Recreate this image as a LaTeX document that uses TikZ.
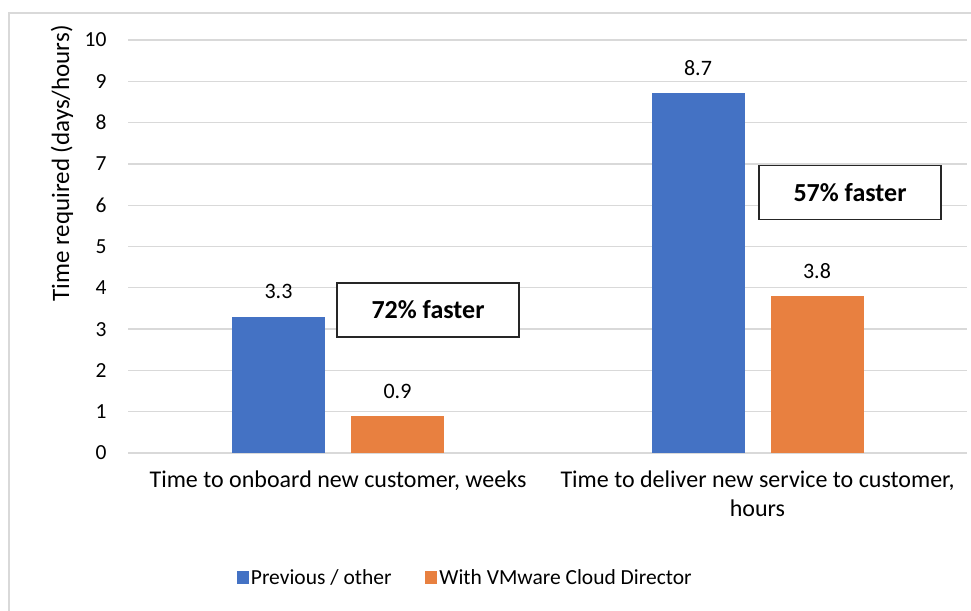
\documentclass[tikz,border=0pt]{standalone}
\usepackage{fontspec}
\setmainfont{Carlito}
\usetikzlibrary{positioning}
\definecolor{prevblue}{RGB}{68,114,196}
\definecolor{vcdorange}{RGB}{232,128,64}
\definecolor{gridgray}{RGB}{217,217,217}

\begin{document}
\begin{tikzpicture}[x=1pt, y=1pt,
    bar/.style={inner sep=0pt, minimum width=93pt, anchor=south},
    val/.style={inner sep=0pt, font=\fontsize{22}{26}\selectfont},
    lbl/.style={font=\fontsize{24}{29}\selectfont, align=center},
    callout/.style={draw=black!85, line width=1.5pt, fill=white, minimum width=182pt, minimum height=54pt, font=\fontsize{26}{30}\selectfont\bfseries},
    legsq/.style={inner sep=0pt, minimum width=12pt, minimum height=13pt}]
    \useasboundingbox (0,-157) rectangle (971,453);
    % Frame
    \draw[gridgray, line width=1.5pt] (9,-170) rectangle (990,440);

    % Grid and ticks
    \foreach \v in {0,...,10} {
        \draw[gridgray, line width=1.3pt] (128,\v*41.3) -- (967,\v*41.3);
        \node[left, font=\fontsize{21.5}{26}\selectfont] (tick\v) at (110,\v*41.3) {\v};
    }
    \node[rotate=90, font=\fontsize{25}{30}\selectfont] (ytitle) at (62,289.5) {Time required (days/hours)};

    % Bars
    \node[bar, fill=prevblue, minimum height=3.3*41.3pt] (onbprev) at (278.5,0) {};
    \node[bar, fill=vcdorange, minimum height=0.9*41.3pt] (onbvcd) at (397.5,0) {};
    \node[bar, fill=prevblue, minimum height=8.7*41.3pt] (delprev) at (698,0) {};
    \node[bar, fill=vcdorange, minimum height=3.8*41.3pt] (delvcd) at (817,0) {};

    % Values
    \node[val, above=17pt of onbprev] (onbprevval) {3.3};
    \node[val, above=17pt of onbvcd] (onbvcdval) {0.9};
    \node[val, above=17pt of delprev] (delprevval) {8.7};
    \node[val, above=17pt of delvcd] (delvcdval) {3.8};

    % Callouts
    \node[callout] (onbgain) at (428,143) {72\% faster};
    \node[callout] (delgain) at (850,260.5) {57\% faster};

    % Categories
    \node[lbl, anchor=north] (onbcat) at (338,-14) {Time to onboard new customer, weeks};
    \node[lbl, anchor=north] (delcat) at (757.5,-14) {Time to deliver new service to customer,\\hours};

    % Legend
    \node[legsq, fill=prevblue] (legprev) at (242.5,-124) {};
    \node[right=2pt of legprev, inner sep=0pt, font=\fontsize{21.5}{26}\selectfont] (legprevtxt) {Previous / other};
    \node[legsq, fill=vcdorange] (legvcd) at (431,-124) {};
    \node[right=2pt of legvcd, inner sep=0pt, font=\fontsize{21.5}{26}\selectfont] (legvcdtxt) {With VMware Cloud Director};
\end{tikzpicture}
\end{document}
